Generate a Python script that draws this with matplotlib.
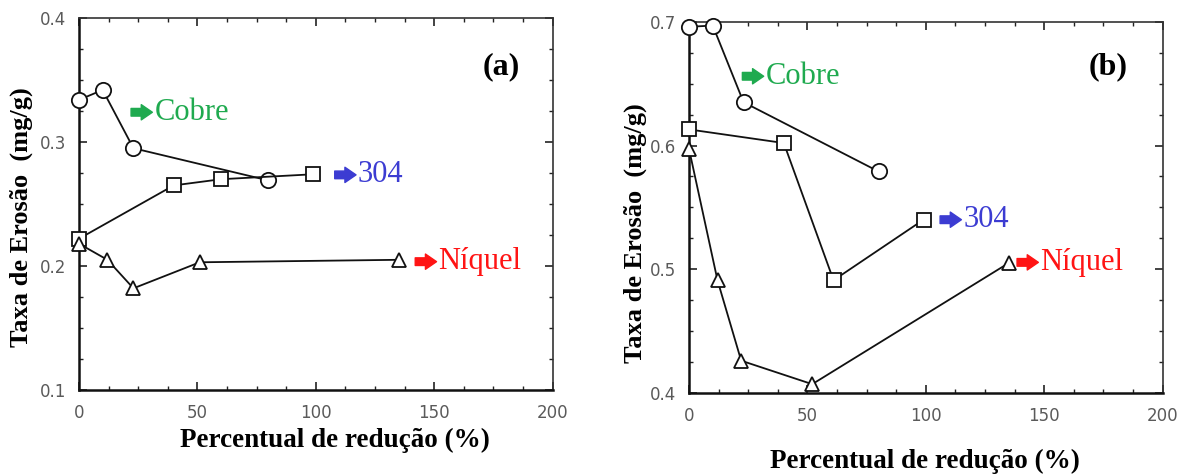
import matplotlib
matplotlib.use("Agg")
import matplotlib.pyplot as plt
from matplotlib.ticker import MultipleLocator, FormatStrFormatter

# (a)
a_cobre_x = [0, 10, 23, 80]
a_cobre_y = [0.334, 0.342, 0.295, 0.269]
a_304_x = [0, 40, 60, 99]
a_304_y = [0.222, 0.265, 0.270, 0.274]
a_niquel_x = [0, 12, 23, 51, 135]
a_niquel_y = [0.218, 0.205, 0.182, 0.203, 0.205]

# (b)
b_cobre_x = [0, 10, 23, 80]
b_cobre_y = [0.696, 0.697, 0.635, 0.579]
b_304_x = [0, 40, 61, 99]
b_304_y = [0.613, 0.602, 0.491, 0.540]
b_niquel_x = [0, 12, 22, 52, 135]
b_niquel_y = [0.597, 0.491, 0.426, 0.407, 0.505]

LINE = "#111111"
GREEN = "#1faa4f"
BLUE = "#3c3cd2"
RED = "#ff1414"
SERIF = ["Liberation Serif", "DejaVu Serif"]

fig = plt.figure(figsize=(11.84, 4.75), dpi=100)
ax_a = fig.add_axes([0.0667, 0.179, 0.400, 0.783])
ax_b = fig.add_axes([0.582, 0.173, 0.400, 0.781])


def series(ax, x, y, marker, ms):
    ax.plot(x, y, color=LINE, lw=1.3, marker=marker, ms=ms,
            mfc="white", mec=LINE, mew=1.3, clip_on=False, zorder=3)


def tag(ax, x, y, label, color):
    # block arrow then the name
    ax.annotate("", xy=(x + 9, y), xytext=(x, y),
                arrowprops=dict(arrowstyle="simple,head_length=0.8,head_width=1.1,tail_width=0.55",
                                color=color, shrinkA=0, shrinkB=0, mutation_scale=10))
    ax.text(x + 9.8, y, label, color=color, fontsize=22, va="center", ha="left",
            family=SERIF)


def style(ax, ylo, yhi):
    ax.set_xlim(0, 200)
    ax.set_ylim(ylo, yhi)
    ax.xaxis.set_major_locator(MultipleLocator(50))
    ax.xaxis.set_minor_locator(MultipleLocator(12.5))
    ax.yaxis.set_major_locator(MultipleLocator(0.1))
    ax.yaxis.set_minor_locator(MultipleLocator(0.025))
    ax.yaxis.set_major_formatter(FormatStrFormatter("%.1f"))
    ax.tick_params(which="both", direction="in", top=True, right=True,
                   colors="#222222", labelcolor="#5a5a5a", labelsize=12)
    ax.tick_params(which="major", length=6, width=1.2)
    ax.tick_params(which="minor", length=3, width=1)
    ax.tick_params(axis="x", which="major", pad=10)
    ax.tick_params(axis="y", which="major", pad=9)
    for side in ["left", "bottom"]:
        ax.spines[side].set_linewidth(1.8)
        ax.spines[side].set_color("#111111")
    for side in ["top", "right"]:
        ax.spines[side].set_linewidth(1.2)
        ax.spines[side].set_color("#333333")
    ax.set_ylabel("Taxa de Erosão  (mg/g)", family=SERIF, fontweight="bold",
                  fontsize=19)
    ax.set_xlabel("Percentual de redução (%)", family=SERIF, fontweight="bold",
                  fontsize=19.5, va="top")


# panel (a)
series(ax_a, a_cobre_x, a_cobre_y, "o", 11)
series(ax_a, a_304_x, a_304_y, "s", 10)
series(ax_a, a_niquel_x, a_niquel_y, "^", 10)
style(ax_a, 0.1, 0.4)
ax_a.xaxis.set_label_coords(0.54, -0.103)
ax_a.yaxis.set_label_coords(-0.097, 0.465)
ax_a.text(0.892, 0.868, "(a)", transform=ax_a.transAxes, family=SERIF,
          fontweight="bold", fontsize=23, ha="center", va="center")
tag(ax_a, 22, 0.324, "Cobre", GREEN)
tag(ax_a, 108, 0.2735, "304", BLUE)
tag(ax_a, 142, 0.2035, "Níquel", RED)

# panel (b)
series(ax_b, b_cobre_x, b_cobre_y, "o", 11)
series(ax_b, b_304_x, b_304_y, "s", 10)
series(ax_b, b_niquel_x, b_niquel_y, "^", 10)
style(ax_b, 0.4, 0.7)
ax_b.xaxis.set_label_coords(0.498, -0.152)
ax_b.yaxis.set_label_coords(-0.089, 0.43)
ax_b.text(0.884, 0.879, "(b)", transform=ax_b.transAxes, family=SERIF,
          fontweight="bold", fontsize=23, ha="center", va="center")
tag(ax_b, 22.5, 0.656, "Cobre", GREEN)
tag(ax_b, 106, 0.540, "304", BLUE)
tag(ax_b, 138.5, 0.5055, "Níquel", RED)

fig.savefig("out.png", dpi=100)
